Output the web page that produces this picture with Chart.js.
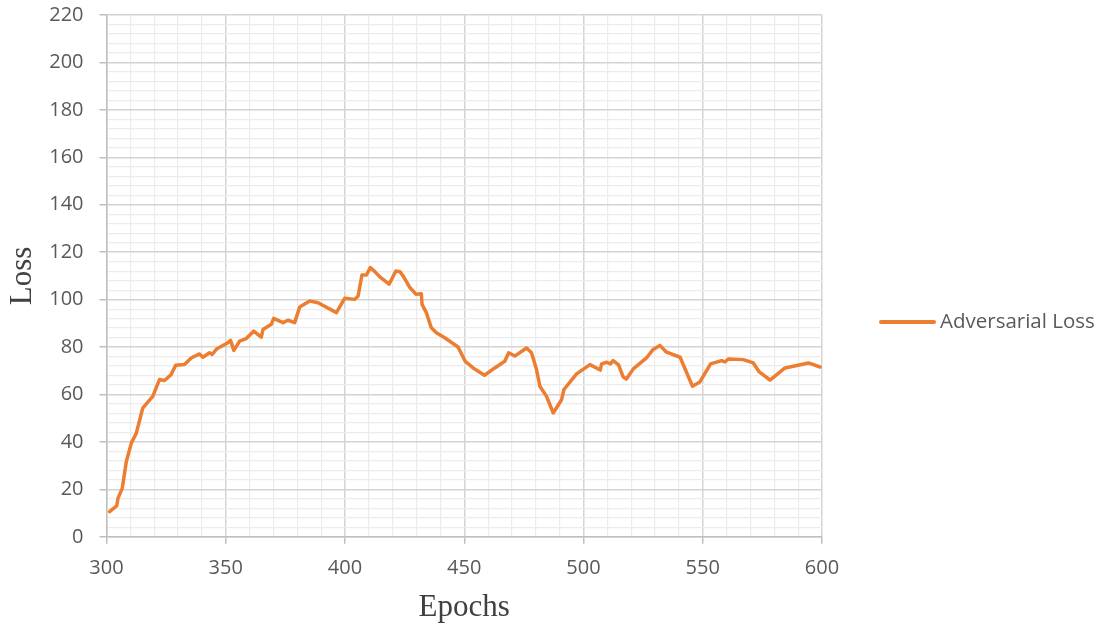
<!DOCTYPE html>
<html>
<head>
<meta charset="utf-8">
<title>Adversarial Loss</title>
<script src="https://cdn.jsdelivr.net/npm/chart.js@4.4.1/dist/chart.umd.min.js"></script>
<style>
  html, body { margin: 0; padding: 0; background: #ffffff; }
  canvas { display: block; }
</style>
</head>
<body>
<canvas id="chart" width="1108" height="632"></canvas>
<script>
// Training epochs and the adversarial loss recorded at each of them
const epochs = [
  301.3, 304.3, 304.8, 306.6, 308.3, 310.4, 312.5, 315.2, 317.3, 319.4,
  322.2, 324.3, 327.1, 329.0, 332.7, 335.5, 339.0, 340.4, 343.2, 344.3,
  346.3, 350.9, 352.0, 353.4, 355.8, 358.6, 361.7, 364.9, 365.6, 369.1,
  370.1, 374.0, 376.1, 378.9, 381.0, 385.2, 388.7, 396.4, 399.9, 404.1,
  405.5, 407.1, 409.0, 410.6, 412.5, 414.6, 418.5, 421.3, 423.0, 424.6,
  427.2, 429.7, 432.0, 432.3, 434.1, 436.2, 438.3, 441.8, 447.4, 450.4,
  453.7, 458.5, 462.8, 467.0, 468.6, 471.2, 476.1, 478.2, 480.3, 481.7,
  484.5, 487.3, 490.8, 491.8, 497.1, 502.7, 507.0, 507.6, 509.7, 511.3,
  512.4, 514.7, 516.6, 518.0, 520.9, 526.4, 529.2, 532.0, 534.6, 540.5,
  545.7, 548.8, 553.3, 557.9, 559.3, 560.7, 567.0, 571.2, 573.7, 578.2,
  584.5, 594.3, 599.2
];
const adversarialLoss = [
  10.6, 13.1, 16.2, 20.4, 31.7, 39.5, 43.7, 54.3, 56.8, 59.2,
  66.3, 65.9, 68.4, 72.3, 72.6, 75.4, 77.1, 75.7, 77.6, 76.9,
  79.3, 81.8, 82.8, 78.6, 82.5, 83.6, 86.7, 84.2, 87.4, 89.6,
  92.1, 90.3, 91.3, 90.3, 96.9, 99.4, 98.7, 94.5, 100.6, 100.1,
  101.5, 110.4, 110.4, 113.5, 111.8, 109.6, 106.5, 112.1, 111.8, 109.6,
  105.1, 102.3, 102.5, 98.0, 94.5, 88.1, 86.0, 83.9, 80.0, 74.0,
  71.2, 68.1, 71.2, 74.0, 77.6, 76.2, 79.6, 77.6, 70.5, 63.5,
  59.2, 52.2, 57.8, 62.1, 68.7, 72.6, 70.3, 72.9, 73.6, 72.9,
  74.3, 72.5, 67.5, 66.5, 70.8, 75.4, 79.0, 80.7, 78.0, 75.7,
  63.5, 65.3, 72.9, 74.3, 73.7, 75.0, 74.7, 73.3, 69.5, 66.1,
  71.2, 73.3, 71.6
];
const seriesName = 'Adversarial Loss';
const xTitle = 'Epochs';
const yTitle = 'Loss';

// Axis ranges: labelled ticks every 50 epochs / 20 loss, faint minor grid between
const xRange = { min: 300, max: 600, minorStep: 10, majorStep: 50 };
const yRange = { min: 0, max: 220, minorStep: 4, majorStep: 20 };

const LINE_COLOR = '#ED7D31';
const MAJOR_GRID = '#d4d4d4';
const MINOR_GRID = '#ececec';
const AXIS_LINE = '#bfbfbf';
const TICK_TEXT = '#595959';
const TITLE_TEXT = '#404040';
const SANS = "'Open Sans', 'Liberation Sans', sans-serif";
const SERIF = "'Liberation Serif', 'DejaVu Serif', serif";

const points = epochs.map((e, i) => ({ x: e, y: adversarialLoss[i] }));

function isMajor(value, step) {
  return Math.abs(value / step - Math.round(value / step)) < 1e-6;
}

// Legend drawn to the right of the plot, using the dataset's own label and colour
const sideLegend = {
  id: 'sideLegend',
  afterDraw(chart) {
    const ds = chart.data.datasets[0];
    const area = chart.chartArea;
    const ctx = chart.ctx;
    const y = 322;
    const x0 = area.right + 59;
    ctx.save();
    ctx.strokeStyle = ds.borderColor;
    ctx.lineWidth = 4;
    ctx.lineCap = 'round';
    ctx.beginPath();
    ctx.moveTo(x0, y);
    ctx.lineTo(x0 + 53, y);
    ctx.stroke();
    ctx.fillStyle = TICK_TEXT;
    ctx.font = '20.5px ' + SANS;
    ctx.textBaseline = 'middle';
    ctx.textAlign = 'left';
    ctx.fillText(ds.label, x0 + 59, y);
    ctx.restore();
  }
};

new Chart(document.getElementById('chart'), {
  type: 'line',
  data: {
    datasets: [{
      label: seriesName,
      data: points,
      borderColor: LINE_COLOR,
      backgroundColor: LINE_COLOR,
      borderWidth: 3.5,
      pointRadius: 0,
      tension: 0,
      borderJoinStyle: 'round',
      borderCapStyle: 'round',
      fill: false
    }]
  },
  options: {
    responsive: false,
    animation: false,
    layout: { padding: { left: 4, right: 286, top: 15, bottom: 6 } },
    plugins: {
      legend: { display: false },
      tooltip: { enabled: false }
    },
    scales: {
      x: {
        type: 'linear',
        min: xRange.min,
        max: xRange.max,
        border: { color: AXIS_LINE, width: 1.5 },
        grid: {
          color: c => isMajor(c.tick.value, xRange.majorStep) ? MAJOR_GRID : MINOR_GRID,
          lineWidth: c => isMajor(c.tick.value, xRange.majorStep) ? 1.5 : 1.2,
          tickColor: c => isMajor(c.tick.value, xRange.majorStep) ? AXIS_LINE : 'rgba(0,0,0,0)',
          tickLength: 7
        },
        ticks: {
          stepSize: xRange.minorStep,
          autoSkip: false,
          maxRotation: 0,
          padding: 12,
          color: TICK_TEXT,
          font: { family: SANS, size: 20 },
          callback: v => isMajor(v, xRange.majorStep) ? String(v) : ''
        },
        title: {
          display: true,
          text: xTitle,
          color: TITLE_TEXT,
          font: { family: SERIF, size: 31 },
          padding: { top: -3, bottom: 0 }
        }
      },
      y: {
        type: 'linear',
        min: yRange.min,
        max: yRange.max,
        border: { color: AXIS_LINE, width: 1.5 },
        grid: {
          color: c => isMajor(c.tick.value, yRange.majorStep) ? MAJOR_GRID : MINOR_GRID,
          lineWidth: c => isMajor(c.tick.value, yRange.majorStep) ? 1.5 : 1.2,
          tickColor: c => isMajor(c.tick.value, yRange.majorStep) ? AXIS_LINE : 'rgba(0,0,0,0)',
          tickLength: 7
        },
        ticks: {
          stepSize: yRange.minorStep,
          autoSkip: false,
          padding: 16,
          color: TICK_TEXT,
          font: { family: SANS, size: 20 },
          callback: v => isMajor(v, yRange.majorStep) ? String(v) : ''
        },
        // the top label may overhang the plot; the outer layout padding already leaves room for it
        afterFit: scale => { scale.paddingTop = 0; scale.paddingBottom = 0; },
        title: {
          display: true,
          text: yTitle,
          color: TITLE_TEXT,
          font: { family: SERIF, size: 31 },
          padding: { top: 0, bottom: -8 }
        }
      }
    }
  },
  plugins: [sideLegend]
});
</script>
</body>
</html>
